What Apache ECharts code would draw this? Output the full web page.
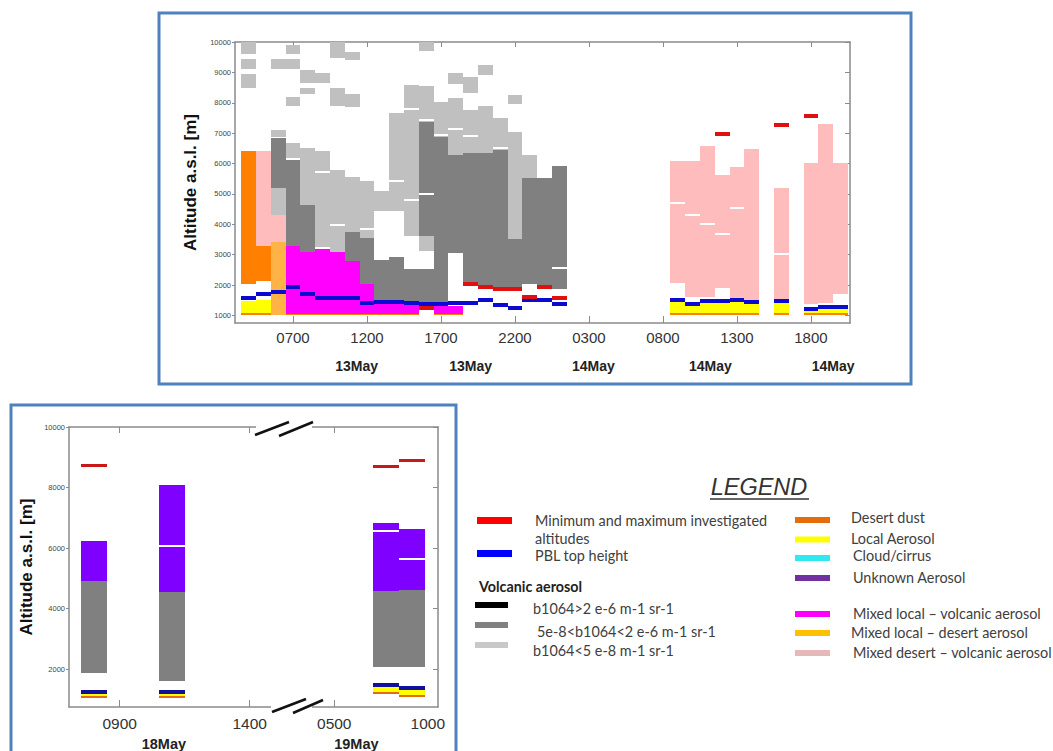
<!DOCTYPE html>
<html>
<head>
<meta charset="utf-8">
<script src="https://cdn.jsdelivr.net/npm/echarts@6.0.0/dist/echarts.min.js"></script>
<style>html,body{margin:0;padding:0;background:#fff}#c{width:1053px;height:751px}</style>
</head>
<body>
<div id="c"></div>
<script>
// ---------- axis ticks / labels ----------
const topTickHours = [7, 12, 17, 22, 27, 32, 37, 42];           // hours since 13May 00:00
const topTickLabels = ['0700', '1200', '1700', '2200', '0300', '0800', '1300', '1800'];
const topDatePos = [11.3, 19.0, 27.3, 35.2, 43.5];
const topDateLabels = ['13May', '13May', '14May', '14May', '14May'];
const topAltTicks = [1000, 2000, 3000, 4000, 5000, 6000, 7000, 8000, 9000, 10000];

const botTickPos = [9, 14, 17.25, 20.85];                        // compressed time axis (break between 18 and 19 May)
const botTickLabels = ['0900', '1400', '0500', '1000'];
const botTickMarks = [9, 14, 17.25];
const botDatePos = [10.7, 18.1];
const botDateLabels = ['18May', '19May'];
const botAltTicks = [2000, 4000, 6000, 8000, 10000];

// ---------- 13-14 May layers: [hour, bottom m, top m] ----------
const topLightGray = [
  [4, 9600, 10000], [4, 9100, 9450], [4, 8500, 8950],
  [6, 9100, 9450], [6, 6860, 7110], [6, 4310, 5190],
  [7, 9600, 9900], [7, 9100, 9450], [7, 7900, 8200], [7, 6100, 6670],
  [8, 8650, 9080], [8, 8280, 8470], [8, 4650, 6500],
  [9, 8650, 8970], [9, 3250, 6400],
  [10, 9480, 10000], [10, 7880, 8470], [10, 3100, 5800],
  [11, 9400, 9680], [11, 7850, 8300], [11, 3750, 5550],
  [12, 3550, 5430],
  [13, 4450, 5090],
  [14, 4450, 7650],
  [15, 3620, 8600],
  [16, 9700, 9990], [16, 7370, 8540], [16, 3120, 3620],
  [17, 6880, 8030],
  [18, 8630, 8980], [18, 6290, 8150],
  [19, 8320, 8850], [19, 6330, 7760],
  [20, 8930, 9230], [20, 6330, 7880],
  [21, 6450, 7490],
  [22, 7975, 8250], [22, 3500, 7030],
  [23, 5520, 6290]
];
const topDarkGray = [
  [6, 5190, 6830], [7, 3300, 6100], [8, 3100, 4650], [11, 2800, 3750], [12, 2050, 3550],
  [13, 1450, 2840], [14, 1480, 2920], [15, 1480, 2520], [16, 3620, 7370], [16, 1400, 2520],
  [17, 1430, 6880], [18, 3060, 6290], [19, 2100, 6330], [20, 1970, 6330], [21, 1920, 6450],
  [22, 1920, 3500], [23, 2030, 5520], [24, 1990, 5520], [25, 1860, 5910]
];
const topDesertDust = [
  [4, 2050, 6400], [5, 2130, 3270],
  [4, 1000, 1070], [5, 1000, 1070], [7, 1000, 1060], [8, 1000, 1060], [9, 1000, 1060], [10, 1000, 1060],
  [11, 1000, 1060], [12, 1000, 1060], [13, 1000, 1060], [14, 1000, 1060], [15, 1000, 1060],
  [17, 1000, 1060], [18, 1000, 1060],
  [33, 1000, 1070], [34, 1000, 1070], [35, 1000, 1070], [36, 1000, 1070], [37, 1000, 1070], [38, 1000, 1070],
  [40, 1000, 1070], [42, 1000, 1070], [43, 1000, 1070], [44, 1000, 1070]
];
const topLocal = [
  [4, 1070, 1480], [5, 1070, 1500],
  [33, 1070, 1480], [34, 1070, 1370], [35, 1070, 1440], [36, 1070, 1440], [37, 1070, 1490], [38, 1070, 1430],
  [40, 1070, 1440], [42, 1070, 1200], [43, 1070, 1250], [44, 1070, 1250]
];
const topMixedDesertVolc = [
  [5, 3270, 6400], [6, 3420, 4310],
  [33, 2070, 6080], [34, 1610, 6080], [35, 1610, 6580], [36, 1890, 5620], [37, 1520, 5900], [38, 1520, 6470],
  [40, 1520, 5190], [42, 1360, 6030], [43, 1420, 7300], [44, 1690, 6030]
];
const topMixedLocalDesert = [[6, 1000, 3420]];
const topMixedLocalVolc = [
  [7, 1060, 3300], [8, 1060, 3100], [9, 1060, 3200], [10, 1060, 3100], [11, 1060, 2800], [12, 1060, 2050],
  [13, 1060, 1450], [14, 1060, 1480], [15, 1060, 1480], [17, 1060, 1310], [18, 1060, 1310]
];
// [hour, altitude m]
const topWhiteMarks = [
  [7, 6150], [9, 5720], [10, 3980], [12, 3840], [14, 5440], [15, 7790], [15, 4800], [16, 7440], [16, 4990],
  [17, 6930], [18, 7120], [19, 6910], [21, 6500], [25, 2550],
  [33, 4700], [34, 4310], [35, 4020], [36, 3680], [37, 4530], [40, 3020]
];
const topPBL = [
  [4, 1570], [5, 1690], [6, 1765], [7, 1930], [8, 1690], [9, 1580], [10, 1580], [11, 1580], [12, 1410],
  [13, 1440], [14, 1440], [15, 1420], [16, 1370], [17, 1380], [18, 1400], [19, 1410], [20, 1500], [21, 1340],
  [22, 1230], [23, 1500], [24, 1500], [25, 1390],
  [33, 1500], [34, 1380], [35, 1460], [36, 1460], [37, 1510], [38, 1450], [40, 1460], [42, 1220], [43, 1270], [44, 1270]
];
const topMinMax = [
  [16, 1230], [19, 2050], [20, 1920], [21, 1860], [22, 1860], [23, 1590], [24, 1940], [25, 1570],
  [36, 6980], [40, 7270], [42, 7580]
];

// ---------- 18-19 May layers ----------
const botUnknown = [[8, 4900, 6240], [11, 4540, 8080], [19.25, 4580, 6820], [20.25, 4630, 6640]];
const botDarkGray = [[8, 1860, 4900], [11, 1620, 4540], [19.25, 2060, 4580], [20.25, 2060, 4630]];
const botLocal = [[8, 1120, 1180], [11, 1120, 1180], [19.25, 1230, 1420], [20.25, 1155, 1320]];
const botDesertDust = [[8, 1050, 1120], [11, 1050, 1120], [19.25, 1180, 1230], [20.25, 1070, 1155]];
const botPBL = [[8, 1230], [11, 1230], [19.25, 1480], [20.25, 1375]];
const botMinMax = [[8, 8740], [19.25, 8710], [20.25, 8880]];
const botWhiteMarks = [[11, 6080], [19.25, 6550], [20.25, 5650]];

// ---------- chart ----------
const C = {
  lightGray: '#c0c0c0', darkGray: '#808080', dust: '#ff8000', local: '#ffff00', mixDV: '#ffbcbc',
  mixLD: '#ffb347', mixLV: '#ff00ff', unknown: '#8000ff', pbl: '#0a0ad0', minmax: '#e01010'
};

function barSeries(data, color, g) {
  return {
    type: 'custom', silent: true, clip: true, data: data,
    xAxisIndex: g ? 3 : 0, yAxisIndex: g ? 2 : 0,
    renderItem: function (params, api) {
      const x = api.value(0), y0 = api.value(1), y1 = api.value(2);
      const a = api.coord([x - 0.5, y1]), b = api.coord([x + 0.5, y0]);
      const X0 = Math.round(a[0]), X1 = Math.round(b[0]), Y0 = Math.round(a[1]), Y1 = Math.round(b[1]);
      return { type: 'rect', shape: { x: X0, y: Y0, width: X1 - X0, height: Y1 - Y0 }, style: { fill: color } };
    }
  };
}
function markSeries(data, color, thick, g) {
  return {
    type: 'custom', silent: true, clip: true, data: data,
    xAxisIndex: g ? 3 : 0, yAxisIndex: g ? 2 : 0,
    renderItem: function (params, api) {
      const x = api.value(0), y = api.value(1);
      const a = api.coord([x - 0.5, y]), b = api.coord([x + 0.5, y]);
      const X0 = Math.round(a[0]), X1 = Math.round(b[0]);
      return { type: 'rect', shape: { x: X0, y: Math.round(a[1] - thick / 2), width: X1 - X0, height: thick }, style: { fill: color } };
    }
  };
}

const axisGray = '#8a8a8a';
const FONT = 'Liberation Sans';
const LFONT = '14.4px "Lato"';
function pickLabel(vals, labels) {
  return function (v) {
    for (let i = 0; i < vals.length; i++) if (Math.abs(vals[i] - v) < 1e-6) return labels[i];
    return '';
  };
}

const chart = echarts.init(document.getElementById('c'), null, { renderer: 'svg', width: 1053, height: 751 });

const legendLeft = [
  { t: 'Minimum and maximum investigated', y: 520 },
  { t: 'altitudes', y: 538 },
  { t: 'PBL top height', y: 555 }
];
const graphic = [
  { type: 'rect', shape: { x: 159, y: 13, width: 752, height: 371 }, style: { fill: 'none', stroke: '#4f81bd', lineWidth: 3 } },
  { type: 'rect', shape: { x: 11, y: 405, width: 445, height: 360 }, style: { fill: 'none', stroke: '#4f81bd', lineWidth: 3 } },
  // axis break marks
  { type: 'rect', shape: { x: 256, y: 424, width: 56, height: 6 }, style: { fill: '#fff' }, z: 50 },
  { type: 'rect', shape: { x: 271, y: 704, width: 41, height: 7 }, style: { fill: '#fff' }, z: 50 },
  { type: 'line', shape: { x1: 255, y1: 435, x2: 289, y2: 422 }, style: { stroke: '#111', lineWidth: 2.5 }, z: 51 },
  { type: 'line', shape: { x1: 279, y1: 436, x2: 313, y2: 422 }, style: { stroke: '#111', lineWidth: 2.5 }, z: 51 },
  { type: 'line', shape: { x1: 272, y1: 712, x2: 306, y2: 699 }, style: { stroke: '#111', lineWidth: 2.5 }, z: 51 },
  { type: 'line', shape: { x1: 293, y1: 713, x2: 323, y2: 700 }, style: { stroke: '#111', lineWidth: 2.5 }, z: 51 },
  // legend
  { type: 'text', style: { text: 'LEGEND', x: 759, y: 487, font: 'italic 23.5px "Liberation Sans"', fill: '#333', textAlign: 'center', textVerticalAlign: 'middle' } },
  { type: 'line', shape: { x1: 710, y1: 499, x2: 809, y2: 499 }, style: { stroke: '#333', lineWidth: 1.3 } },
  { type: 'rect', shape: { x: 477, y: 517, width: 35, height: 7 }, style: { fill: '#ff0000' } },
  { type: 'rect', shape: { x: 477, y: 550, width: 35, height: 7 }, style: { fill: '#0000ff' } },
  { type: 'text', style: { text: 'Volcanic aerosol', x: 479, y: 586, font: 'bold 14.3px "Lato"', fill: '#222', textVerticalAlign: 'middle' } },
  { type: 'rect', shape: { x: 475, y: 602, width: 33, height: 6 }, style: { fill: '#000' } },
  { type: 'rect', shape: { x: 475, y: 622, width: 33, height: 6 }, style: { fill: '#808080' } },
  { type: 'rect', shape: { x: 475, y: 642, width: 33, height: 6 }, style: { fill: '#c8c8c8' } },
  { type: 'text', style: { text: 'b1064>2 e-6 m-1 sr-1', x: 533, y: 608, font: LFONT, fill: '#404040', textVerticalAlign: 'middle' } },
  { type: 'text', style: { text: '5e-8<b1064<2 e-6 m-1 sr-1', x: 537, y: 631, font: LFONT, fill: '#404040', textVerticalAlign: 'middle' } },
  { type: 'text', style: { text: 'b1064<5 e-8 m-1 sr-1', x: 533, y: 650, font: LFONT, fill: '#404040', textVerticalAlign: 'middle' } }
];
legendLeft.forEach(function (d) {
  graphic.push({ type: 'text', style: { text: d.t, x: 535, y: d.y, font: LFONT, fill: '#404040', textVerticalAlign: 'middle' } });
});
const legendRight = [
  { t: 'Desert dust', c: '#e46c0a', y: 520, ty: 517, tx: 851 },
  { t: 'Local Aerosol', c: '#ffff00', y: 539.5, ty: 538, tx: 851 },
  { t: 'Cloud/cirrus', c: '#30e8f0', y: 558, ty: 555, tx: 853 },
  { t: 'Unknown Aerosol', c: '#7030a0', y: 578, ty: 577, tx: 853 },
  { t: 'Mixed local – volcanic aerosol', c: '#ff00ff', y: 614, ty: 613, tx: 853 },
  { t: 'Mixed local – desert aerosol', c: '#ffc000', y: 633, ty: 632.5, tx: 851 },
  { t: 'Mixed desert – volcanic aerosol', c: '#e6b9b8', y: 653, ty: 652, tx: 853 }
];
legendRight.forEach(function (d) {
  graphic.push({ type: 'rect', shape: { x: 795, y: d.y - 3, width: 35, height: 6 }, style: { fill: d.c } });
  graphic.push({ type: 'text', style: { text: d.t, x: d.tx, y: d.ty, font: LFONT, fill: '#404040', textVerticalAlign: 'middle' } });
});

function yAxisCfg(grid, ticks, gap) {
  return {
    type: 'value', gridIndex: grid, min: 750, max: 10000, position: 'left',
    name: 'Altitude a.s.l. [m]', nameLocation: 'middle', nameGap: gap, nameRotate: 90,
    nameTextStyle: { fontFamily: FONT, fontWeight: 'bold', fontSize: 17, color: '#111' },
    axisLine: { show: true, lineStyle: { color: axisGray, width: 1.5 } },
    axisTick: { show: true, inside: false, length: 3, customValues: ticks, lineStyle: { color: axisGray } },
    axisLabel: { show: true, customValues: ticks, formatter: function (v) { return String(v); }, fontSize: 7.5, color: '#444', fontFamily: FONT, margin: 4 },
    splitLine: { show: false }
  };
}
function yRightCfg(grid, ticks) {
  return {
    type: 'value', gridIndex: grid, min: 750, max: 10000, position: 'right',
    axisLine: { show: true, lineStyle: { color: axisGray, width: 1.5 } },
    axisTick: { show: true, inside: true, length: 5, customValues: ticks, lineStyle: { color: axisGray } },
    axisLabel: { show: false }, splitLine: { show: false }
  };
}

const option = {
  animation: false,
  backgroundColor: '#fff',
  grid: [
    { left: 235, top: 42, width: 615, height: 281 },
    { left: 69, top: 427, width: 369, height: 281 }
  ],
  xAxis: [
    { type: 'value', gridIndex: 0, min: 3.08, max: 44.64, position: 'bottom',
      axisLine: { show: true, lineStyle: { color: axisGray, width: 1.5 } },
      axisTick: { show: true, inside: true, length: 7, customValues: topTickHours, lineStyle: { color: axisGray } },
      axisLabel: { customValues: topTickHours, formatter: pickLabel(topTickHours, topTickLabels), fontSize: 15, color: '#333', fontFamily: FONT, margin: 7 },
      splitLine: { show: false } },
    { type: 'value', gridIndex: 0, min: 3.08, max: 44.64, position: 'top',
      axisLine: { show: true, lineStyle: { color: axisGray, width: 1.5 } },
      axisTick: { show: true, inside: true, length: 5, customValues: topTickHours, lineStyle: { color: axisGray } },
      axisLabel: { show: false }, splitLine: { show: false } },
    { type: 'value', gridIndex: 0, min: 3.08, max: 44.64, position: 'bottom', offset: 28,
      axisLine: { show: false }, axisTick: { show: false },
      axisLabel: { customValues: topDatePos, formatter: pickLabel(topDatePos, topDateLabels), fontSize: 14, fontWeight: 'bold', color: '#222', fontFamily: FONT, margin: 8 },
      splitLine: { show: false } },
    { type: 'value', gridIndex: 1, min: 7.05, max: 21.24, position: 'bottom',
      axisLine: { show: true, lineStyle: { color: axisGray, width: 1.5 } },
      axisTick: { show: true, inside: true, length: 7, customValues: botTickMarks, lineStyle: { color: axisGray } },
      axisLabel: { customValues: botTickPos, formatter: pickLabel(botTickPos, botTickLabels), fontSize: 15.5, color: '#333', fontFamily: FONT, margin: 8 },
      splitLine: { show: false } },
    { type: 'value', gridIndex: 1, min: 7.05, max: 21.24, position: 'top',
      axisLine: { show: true, lineStyle: { color: axisGray, width: 1.5 } },
      axisTick: { show: true, inside: true, length: 6, customValues: botTickMarks, lineStyle: { color: axisGray } },
      axisLabel: { show: false }, splitLine: { show: false } },
    { type: 'value', gridIndex: 1, min: 7.05, max: 21.24, position: 'bottom', offset: 23,
      axisLine: { show: false }, axisTick: { show: false },
      axisLabel: { customValues: botDatePos, formatter: pickLabel(botDatePos, botDateLabels), fontSize: 14.5, fontWeight: 'bold', color: '#222', fontFamily: FONT, margin: 6 },
      splitLine: { show: false } }
  ],
  yAxis: [
    yAxisCfg(0, topAltTicks, 31),
    yRightCfg(0, topAltTicks),
    yAxisCfg(1, botAltTicks, 34),
    yRightCfg(1, botAltTicks)
  ],
  graphic: graphic,
  series: [
    barSeries(topLightGray, C.lightGray, 0),
    barSeries(topDarkGray, C.darkGray, 0),
    barSeries(topMixedDesertVolc, C.mixDV, 0),
    barSeries(topDesertDust, C.dust, 0),
    barSeries(topMixedLocalDesert, C.mixLD, 0),
    barSeries(topMixedLocalVolc, C.mixLV, 0),
    barSeries(topLocal, C.local, 0),
    markSeries(topWhiteMarks, '#ffffff', 2, 0),
    markSeries(topPBL, C.pbl, 4, 0),
    markSeries(topMinMax, C.minmax, 4, 0),
    barSeries(botUnknown, C.unknown, 1),
    barSeries(botDarkGray, C.darkGray, 1),
    barSeries(botLocal, C.local, 1),
    barSeries(botDesertDust, '#e46c0a', 1),
    markSeries(botWhiteMarks, '#ffffff', 2, 1),
    markSeries(botPBL, '#10109a', 4, 1),
    markSeries(botMinMax, '#c81818', 3, 1)
  ]
};
chart.setOption(option);
</script>
</body>
</html>
